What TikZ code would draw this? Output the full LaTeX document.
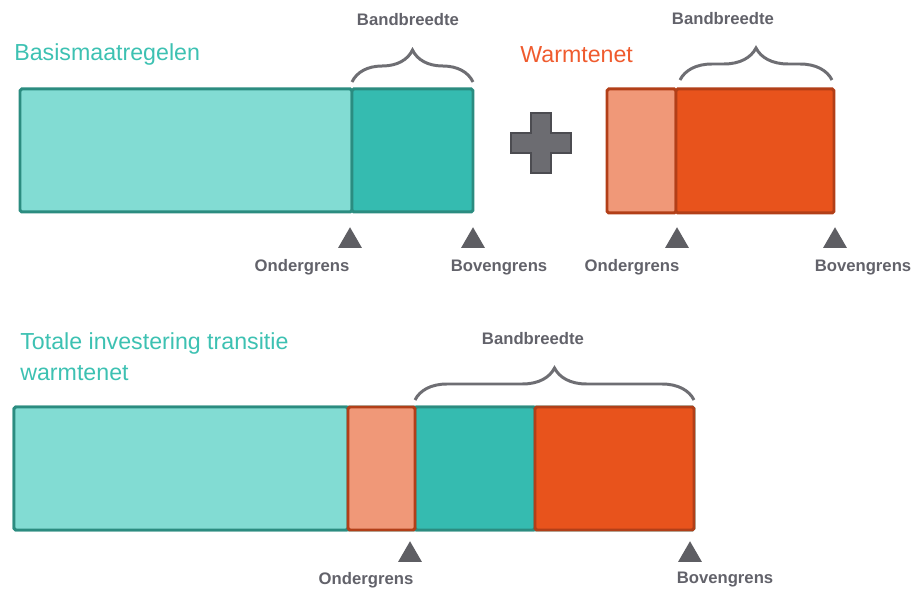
\documentclass[tikz,border=0pt]{standalone}
\usepackage{fontspec}
\setmainfont{Liberation Sans}
\usetikzlibrary{positioning,shapes.geometric,decorations.pathreplacing}

\definecolor{lteal}{HTML}{82DCD3}
\definecolor{dteal}{HTML}{35BBB0}
\definecolor{tealline}{HTML}{2B8C80}
\definecolor{lorange}{HTML}{F09878}
\definecolor{dorange}{HTML}{E8531C}
\definecolor{orangeline}{HTML}{B23F18}
\definecolor{greymark}{HTML}{5E5E63}
\definecolor{greytxt}{HTML}{62626A}
\definecolor{plusline}{HTML}{4C4C51}
\definecolor{plusfill}{HTML}{6C6C71}
\definecolor{tealtitle}{HTML}{3DC1B2}
\definecolor{orangetitle}{HTML}{EF5B2E}

\begin{document}
\begin{tikzpicture}[x=0.02cm,y=-0.02cm]
\tikzstyle{every node}+=[inner sep=0pt]
\tikzstyle{lbl}=[font=\bfseries\fontsize{9.5}{11}\selectfont, text=greytxt]
\tikzstyle{title}=[font=\fontsize{13.2}{17.6}\selectfont, anchor=west, align=left]
\tikzstyle{tri}=[regular polygon, regular polygon sides=3, fill=greymark, minimum size=0.55cm]
\tikzstyle{brc}=[draw=greymark!90, line width=1.7pt, decorate, decoration={brace, amplitude=0.64cm}]
\tikzstyle{seg}=[line width=1.7pt, rounded corners=1pt]
\useasboundingbox (0,0) rectangle (917,590);

% Basismaatregelen
\node[title, text=tealtitle] (t1) at (14,55) {Basismaatregelen};
\filldraw[seg, fill=lteal, draw=tealline] (20,89) rectangle (352,212);
\filldraw[seg, fill=dteal, draw=tealline] (352,89) rectangle (473,212);
\coordinate (b1l) at (352,82);
\coordinate (b1r) at (473,82);
\draw[brc] (b1l) -- (b1r);
\node[lbl] (bb1) at (408,20) {Bandbreedte};
\node[tri] (o1) at (350,241) {};
\node[tri] (u1) at (473,241) {};
\node[lbl] (lo1) at (302,267) {Ondergrens};
\node[lbl] (lu1) at (499,268) {Bovengrens};

% plus
\filldraw[fill=plusfill, draw=plusline, line width=1.5pt] (531,113) -- (551,113) -- (551,133) -- (571,133) -- (571,153) -- (551,153) -- (551,173) -- (531,173) -- (531,153) -- (511,153) -- (511,133) -- (531,133) -- cycle;

% Warmtenet
\node[title, text=orangetitle] (t2) at (520,55) {Warmtenet};
\filldraw[seg, fill=lorange, draw=orangeline] (607,89) rectangle (676,213);
\filldraw[seg, fill=dorange, draw=orangeline] (676,89) rectangle (834,213);
\coordinate (b2l) at (680,80);
\coordinate (b2r) at (832,80);
\draw[brc] (b2l) -- (b2r);
\node[lbl] (bb2) at (723,19) {Bandbreedte};
\node[tri] (o2) at (677,241) {};
\node[tri] (u2) at (835,241) {};
\node[lbl] (lo2) at (632,267) {Ondergrens};
\node[lbl] (lu2) at (863,268) {Bovengrens};

% totaal
\node[title, text=tealtitle] (t3) at (20,357) {Totale investering transitie\\warmtenet};
\filldraw[seg, fill=lteal, draw=tealline] (14,407) rectangle (694,530);
\filldraw[seg, fill=lteal, draw=tealline] (14,407) rectangle (348,530);
\filldraw[seg, fill=dteal, draw=tealline] (415,407) rectangle (535,530);
\filldraw[seg, fill=lorange, draw=orangeline] (348,407) rectangle (415,530);
\filldraw[seg, fill=dorange, draw=orangeline] (535,407) rectangle (694,530);
\coordinate (b3l) at (415,400);
\coordinate (b3r) at (694,400);
\draw[brc] (b3l) -- (b3r);
\node[lbl] (bb3) at (533,339) {Bandbreedte};
\node[tri] (o3) at (410,555) {};
\node[tri] (u3) at (690,555) {};
\node[lbl] (lo3) at (366,580) {Ondergrens};
\node[lbl] (lu3) at (725,580) {Bovengrens};
\end{tikzpicture}
\end{document}
